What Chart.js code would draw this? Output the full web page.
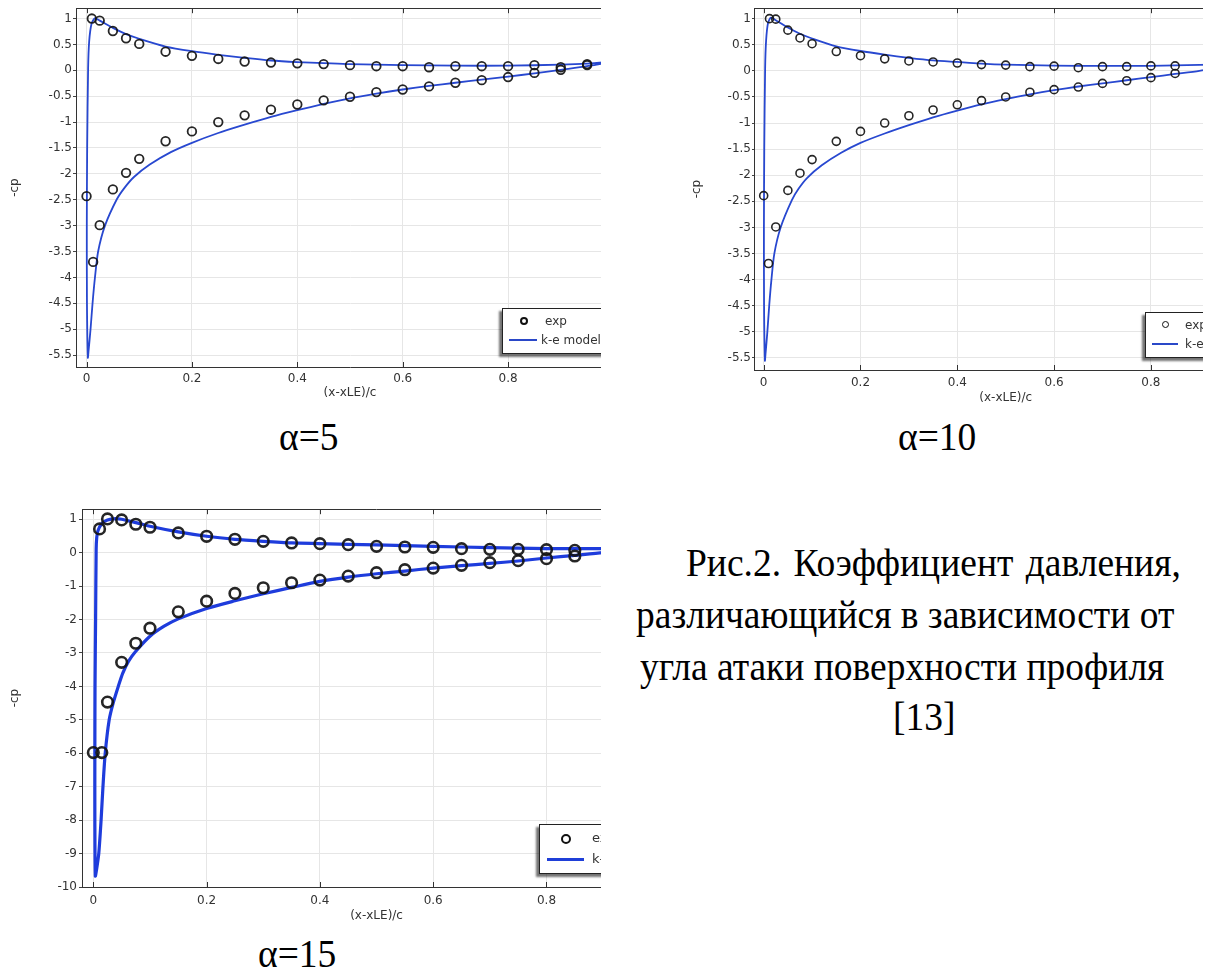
<!DOCTYPE html>
<html><head><meta charset="utf-8">
<script src="https://cdn.jsdelivr.net/npm/chart.js@4.4.0/dist/chart.umd.min.js"></script>
<style>
html,body{margin:0;padding:0;background:#fff;}
body{width:1211px;height:972px;position:relative;overflow:hidden;}
.wrap{position:absolute;overflow:hidden;}
.wrap canvas{position:absolute;left:0;top:0;}
.legend{position:absolute;background:#fff;border:1px solid #222;box-shadow:-3px 3px 2px rgba(0,0,0,0.55);font-family:"DejaVu Sans";font-size:12px;color:#333;}
.legend .mk{position:absolute;border-radius:50%;border:2px solid #111;box-sizing:border-box;}
.legend .ln{position:absolute;}
.legend .tx{position:absolute;white-space:nowrap;line-height:14px;}
.cap{position:absolute;font-family:"Liberation Serif","Times New Roman",serif;font-size:37.5px;line-height:37px;white-space:nowrap;color:#000;transform:scaleY(1.06);}
</style></head><body>

<div class="wrap" style="left:0;top:0;width:601px;height:400px;">
  <canvas id="c1" width="640" height="400"></canvas>
  <div class="legend" style="left:502px;top:308px;width:130px;height:44px;">
    <div class="mk" style="left:17px;top:8px;width:8px;height:8px;"></div>
    <div class="tx" style="left:42px;top:5px;">exp</div>
    <div class="ln" style="left:6px;top:30px;width:28px;height:2px;background:#2a48c8;"></div>
    <div class="tx" style="left:38px;top:24px;">k-e model</div>
  </div>
</div>

<div class="wrap" style="left:680px;top:0;width:523px;height:405px;">
  <canvas id="c2" width="583" height="405"></canvas>
  <div class="legend" style="left:465px;top:312px;width:130px;height:44px;">
    <div class="mk" style="left:16px;top:8px;width:7px;height:7px;border-width:1.6px;"></div>
    <div class="tx" style="left:39px;top:5px;">exp</div>
    <div class="ln" style="left:6px;top:30px;width:26px;height:2px;background:#2a48c8;"></div>
    <div class="tx" style="left:39px;top:24px;">k-e model</div>
  </div>
</div>

<div class="wrap" style="left:0;top:500px;width:601px;height:423px;">
  <canvas id="c3" width="679" height="423"></canvas>
  <div class="legend" style="left:539px;top:324px;width:130px;height:48px;font-size:13px;">
    <div class="mk" style="left:21px;top:9px;width:10px;height:10px;border-width:2.5px;"></div>
    <div class="tx" style="left:52px;top:6px;">exp</div>
    <div class="ln" style="left:7px;top:33px;width:37px;height:3px;background:#1f3fd8;"></div>
    <div class="tx" style="left:52px;top:27px;">k-e model</div>
  </div>
</div>

<div class="cap" style="left:279px;top:418px;">α=5</div>
<div class="cap" style="left:898px;top:418px;">α=10</div>
<div class="cap" style="left:258px;top:935px;">α=15</div>
<div class="cap" style="left:686px;top:544px;word-spacing:3px;">Рис.2. Коэффициент давления,</div>
<div class="cap" style="left:636px;top:596px;">различающийся в зависимости от</div>
<div class="cap" style="left:640px;top:648px;">угла атаки поверхности профиля</div>
<div class="cap" style="left:893px;top:698px;">[13]</div>

<script>
// ---- shared tick labels ----
const xTickValues = [0, 0.2, 0.4, 0.6, 0.8, 1];
const xTickLabels = ['0', '0.2', '0.4', '0.6', '0.8', '1'];
const yTickValuesHalf = [-5.5, -5, -4.5, -4, -3.5, -3, -2.5, -2, -1.5, -1, -0.5, 0, 0.5, 1];
const yTickLabelsHalf = ['-5.5', '-5', '-4.5', '-4', '-3.5', '-3', '-2.5', '-2', '-1.5', '-1', '-0.5', '0', '0.5', '1'];
const yTickValuesUnit = [-10, -9, -8, -7, -6, -5, -4, -3, -2, -1, 0, 1];
const yTickLabelsUnit = ['-10', '-9', '-8', '-7', '-6', '-5', '-4', '-3', '-2', '-1', '0', '1'];
const seriesNames = ['exp', 'k-e model'];

// ---- alpha = 5 ----
const exp5UpperX = [0.01, 0.025, 0.05, 0.075, 0.1, 0.15, 0.2, 0.25, 0.3, 0.35, 0.4, 0.45, 0.5, 0.55, 0.6, 0.65, 0.7, 0.75, 0.8, 0.85, 0.9, 0.95];
const exp5UpperY = [1.0, 0.96, 0.76, 0.62, 0.51, 0.36, 0.28, 0.22, 0.17, 0.15, 0.135, 0.12, 0.10, 0.08, 0.08, 0.06, 0.08, 0.08, 0.08, 0.10, 0.06, 0.12];
const exp5LowerX = [0, 0.0125, 0.025, 0.05, 0.075, 0.1, 0.15, 0.2, 0.25, 0.3, 0.35, 0.4, 0.45, 0.5, 0.55, 0.6, 0.65, 0.7, 0.75, 0.8, 0.85, 0.9, 0.95];
const exp5LowerY = [-2.43, -3.70, -2.99, -2.30, -1.98, -1.71, -1.37, -1.18, -1.00, -0.87, -0.76, -0.66, -0.58, -0.51, -0.42, -0.37, -0.31, -0.24, -0.19, -0.13, -0.05, 0.01, 0.10];
const model5X = [1.0, 0.95, 0.9, 0.8, 0.7, 0.6, 0.5, 0.45, 0.4, 0.35, 0.3, 0.25, 0.2, 0.15, 0.1, 0.075, 0.05, 0.025, 0.016, 0.0095, 0.005, 0.003, 0.0012, 0.0005, 0.0008, 0.0025, 0.004, 0.0076, 0.0114, 0.016, 0.022, 0.035, 0.057, 0.072, 0.09, 0.12, 0.16, 0.2, 0.25, 0.3, 0.35, 0.4, 0.45, 0.5, 0.55, 0.6, 0.65, 0.7, 0.75, 0.8, 0.85, 0.9, 0.95, 1.0];
const model5Y = [0.17, 0.13, 0.11, 0.09, 0.09, 0.10, 0.12, 0.14, 0.16, 0.19, 0.24, 0.30, 0.37, 0.46, 0.61, 0.70, 0.82, 0.96, 1.01, 0.90, 0.56, 0.04, -1.5, -3.0, -4.5, -5.55, -5.4, -5.0, -4.5, -4.0, -3.5, -3.0, -2.5, -2.27, -2.06, -1.82, -1.58, -1.40, -1.21, -1.05, -0.90, -0.77, -0.65, -0.54, -0.45, -0.37, -0.30, -0.24, -0.18, -0.12, -0.06, 0.01, 0.08, 0.17];

// ---- alpha = 10 ----
const exp10UpperX = [0.012, 0.025, 0.05, 0.075, 0.1, 0.15, 0.2, 0.25, 0.3, 0.35, 0.4, 0.45, 0.5, 0.55, 0.6, 0.65, 0.7, 0.75, 0.8, 0.85];
const exp10UpperY = [1.0, 0.99, 0.78, 0.63, 0.52, 0.37, 0.29, 0.23, 0.19, 0.17, 0.15, 0.12, 0.11, 0.08, 0.09, 0.06, 0.08, 0.08, 0.095, 0.095];
const exp10LowerX = [0, 0.01, 0.025, 0.05, 0.075, 0.1, 0.15, 0.2, 0.25, 0.3, 0.35, 0.4, 0.45, 0.5, 0.55, 0.6, 0.65, 0.7, 0.75, 0.8, 0.85];
const exp10LowerY = [-2.39, -3.69, -2.99, -2.29, -1.96, -1.70, -1.35, -1.16, -1.00, -0.86, -0.75, -0.65, -0.57, -0.50, -0.41, -0.36, -0.31, -0.24, -0.19, -0.13, -0.05];
const model10X = [1.0, 0.95, 0.9, 0.8, 0.7, 0.6, 0.5, 0.45, 0.4, 0.35, 0.3, 0.25, 0.2, 0.15, 0.1, 0.075, 0.05, 0.025, 0.015, 0.009, 0.005, 0.003, 0.0012, 0.0005, 0.0008, 0.0025, 0.004, 0.0076, 0.0114, 0.016, 0.022, 0.035, 0.058, 0.072, 0.09, 0.12, 0.16, 0.2, 0.25, 0.3, 0.35, 0.4, 0.45, 0.5, 0.55, 0.6, 0.65, 0.7, 0.75, 0.8, 0.85, 0.9, 0.95, 1.0];
const model10Y = [0.16, 0.13, 0.115, 0.095, 0.095, 0.10, 0.12, 0.14, 0.17, 0.20, 0.25, 0.31, 0.38, 0.47, 0.62, 0.71, 0.83, 0.97, 1.02, 0.92, 0.58, 0.05, -1.5, -3.0, -4.5, -5.55, -5.4, -5.0, -4.5, -4.0, -3.5, -3.0, -2.48, -2.26, -2.05, -1.81, -1.57, -1.38, -1.20, -1.04, -0.89, -0.76, -0.64, -0.54, -0.45, -0.37, -0.30, -0.24, -0.18, -0.12, -0.06, 0.0, 0.08, 0.16];

// ---- alpha = 15 ----
const exp15UpperX = [0.011, 0.025, 0.05, 0.075, 0.1, 0.15, 0.2, 0.25, 0.3, 0.35, 0.4, 0.45, 0.5, 0.55, 0.6, 0.65, 0.7, 0.75, 0.8, 0.85];
const exp15UpperY = [0.71, 1.01, 0.98, 0.85, 0.76, 0.59, 0.49, 0.40, 0.34, 0.29, 0.27, 0.24, 0.19, 0.17, 0.16, 0.12, 0.10, 0.10, 0.09, 0.07];
const exp15LowerX = [0, 0.015, 0.025, 0.05, 0.075, 0.1, 0.15, 0.2, 0.25, 0.3, 0.35, 0.4, 0.45, 0.5, 0.55, 0.6, 0.65, 0.7, 0.75, 0.8, 0.85];
const exp15LowerY = [-5.98, -5.98, -4.47, -3.28, -2.71, -2.26, -1.77, -1.45, -1.22, -1.05, -0.90, -0.82, -0.70, -0.60, -0.51, -0.46, -0.38, -0.30, -0.24, -0.18, -0.10];
const model15X = [1.0, 0.9, 0.8, 0.7, 0.6, 0.5, 0.4, 0.35, 0.3, 0.25, 0.2, 0.15, 0.1, 0.075, 0.05, 0.04, 0.025, 0.015, 0.008, 0.006, 0.005, 0.004, 0.003, 0.0027, 0.0027, 0.0035, 0.0055, 0.0096, 0.0137, 0.017, 0.021, 0.028, 0.035, 0.044, 0.052, 0.062, 0.075, 0.1, 0.125, 0.15, 0.2, 0.25, 0.3, 0.35, 0.4, 0.45, 0.5, 0.55, 0.6, 0.65, 0.7, 0.75, 0.8, 0.85, 0.9, 1.0];
const model15Y = [0.10, 0.12, 0.12, 0.15, 0.19, 0.23, 0.27, 0.29, 0.34, 0.40, 0.49, 0.62, 0.79, 0.90, 1.0, 1.02, 0.98, 0.87, 0.65, 0.45, 0.1, -2, -4, -6, -8, -9.67, -9.5, -9.0, -8.0, -7.0, -6.0, -5.0, -4.5, -4.0, -3.6, -3.25, -2.95, -2.5, -2.2, -1.98, -1.67, -1.44, -1.23, -1.04, -0.86, -0.73, -0.63, -0.55, -0.46, -0.39, -0.32, -0.25, -0.16, -0.08, 0.0, 0.10];

// ---- plugin: top frame line and inner tick marks ----
const framePlugin = {
  id: 'frame',
  afterDatasetsDraw(chart, args, opts) {
    const {ctx, chartArea: a, scales: {x}} = chart;
    ctx.save();
    ctx.strokeStyle = '#333';
    ctx.lineWidth = 1;
    ctx.beginPath();
    ctx.moveTo(a.left, Math.round(a.top) + 0.5);
    ctx.lineTo(a.right, Math.round(a.top) + 0.5);
    x.ticks.forEach(t => {
      const px = Math.round(x.getPixelForValue(t.value)) + 0.5;
      ctx.moveTo(px, a.top);
      ctx.lineTo(px, a.top + opts.len);
      ctx.moveTo(px, a.bottom);
      ctx.lineTo(px, a.bottom - opts.len);
    });
    ctx.stroke();
    ctx.restore();
  }
};

const pts = (xs, ys) => xs.map((v, i) => ({x: v, y: ys[i]}));
const font12 = {family: 'DejaVu Sans', size: 12};

function buildChart(id, o) {
  return new Chart(document.getElementById(id), {
    type: 'scatter',
    data: {
      datasets: [
        {
          label: seriesNames[0],
          data: pts(o.eUX, o.eUY).concat(pts(o.eLX, o.eLY)),
          showLine: false,
          pointRadius: o.pr, pointHoverRadius: o.pr,
          pointBorderWidth: o.pbw,
          pointBorderColor: 'rgba(20,20,20,0.92)',
          pointBackgroundColor: 'rgba(0,0,0,0)'
        },
        {
          label: seriesNames[1],
          data: pts(o.mX, o.mY),
          showLine: true,
          borderColor: o.lc,
          borderWidth: o.lw,
          pointRadius: 0,
          tension: 0.25,
          fill: false
        }
      ]
    },
    options: {
      responsive: false,
      animation: false,
      devicePixelRatio: 1,
      layout: {padding: {top: o.padTop, right: o.padRight, bottom: 0, left: 0}},
      plugins: {legend: {display: false}, tooltip: {enabled: false}, frame: {len: o.tickLen}},
      scales: {
        x: {
          type: 'linear', min: -0.02, max: 1.02,
          afterBuildTicks: s => { s.ticks = xTickValues.map(v => ({value: v})); },
          afterFit: s => { s.height = o.xH; },
          grid: {color: '#e6e6e6', lineWidth: 1, drawTicks: false},
          border: {display: true, color: '#333', width: 1},
          ticks: {padding: o.xPad, color: '#333', font: font12, autoSkip: false, maxRotation: 0,
                  callback: (v, i) => xTickLabels[i]},
          title: {display: true, text: '(x-xLE)/c', color: '#333', font: font12, padding: {top: 0, bottom: 0}}
        },
        y: {
          type: 'linear', min: o.yMin, max: o.yMax,
          afterBuildTicks: s => { s.ticks = o.yTV.map(v => ({value: v})); },
          afterFit: s => { s.width = o.yW; },
          grid: {color: '#e6e6e6', lineWidth: 1, drawTicks: true, tickLength: o.yTl, tickColor: '#444'},
          border: {display: true, color: '#333', width: 1},
          ticks: {padding: o.yPad, color: '#333', font: font12, autoSkip: false,
                  callback: (v, i) => o.yTL[i]},
          title: {display: true, text: '-cp', color: '#333', font: font12, padding: {top: o.yTitlePad, bottom: 0}}
        }
      }
    },
    plugins: [framePlugin]
  });
}

buildChart('c1', {
  eUX: exp5UpperX, eUY: exp5UpperY, eLX: exp5LowerX, eLY: exp5LowerY, mX: model5X, mY: model5Y,
  pr: 4.3, pbw: 1.8, lc: 'rgb(40,72,208)', lw: 1.8,
  padTop: 7, padRight: 16, xH: 33, yW: 76, xPad: 5, yTl: 3, yPad: 1, yTitlePad: 8, tickLen: 5,
  yMin: -5.73, yMax: 1.2, yTV: yTickValuesHalf, yTL: yTickLabelsHalf
});
buildChart('c2', {
  eUX: exp10UpperX, eUY: exp10UpperY, eLX: exp10LowerX, eLY: exp10LowerY, mX: model10X, mY: model10Y,
  pr: 4.0, pbw: 1.6, lc: 'rgb(40,72,208)', lw: 1.8,
  padTop: 7, padRight: 0, xH: 35, yW: 74, xPad: 5.5, yTl: 2, yPad: 1, yTitlePad: 10, tickLen: 5,
  yMin: -5.73, yMax: 1.2, yTV: yTickValuesHalf, yTL: yTickLabelsHalf
});
buildChart('c3', {
  eUX: exp15UpperX, eUY: exp15UpperY, eLX: exp15LowerX, eLY: exp15LowerY, mX: model15X, mY: model15Y,
  pr: 5.3, pbw: 2.6, lc: 'rgb(30,60,220)', lw: 3.2,
  padTop: 7, padRight: 0, xH: 36, yW: 82, xPad: 7, yTl: 3, yPad: 2, yTitlePad: 8, tickLen: 5,
  yMin: -10, yMax: 1.3, yTV: yTickValuesUnit, yTL: yTickLabelsUnit
});
</script>
</body></html>
